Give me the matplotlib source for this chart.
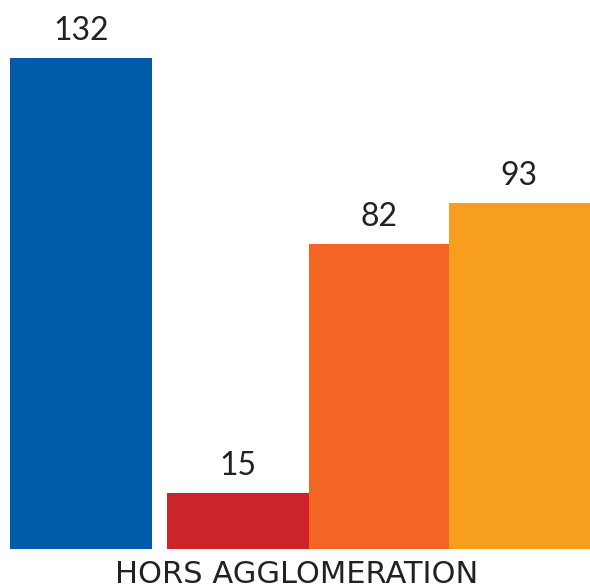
import matplotlib
matplotlib.use("Agg")
import matplotlib.pyplot as plt

categories = ["A", "B", "C", "D"]
values = [132, 15, 82, 93]
positions = [0, 1.11, 2.11, 3.1]
colors = ["#005BAA", "#CC232C", "#F26522", "#F79E1E"]
label = "HORS AGGLOMERATION"

plt.rcParams['font.family'] = ['Lato', 'DejaVu Sans']
fig = plt.figure(figsize=(5.9, 5.88), dpi=100)
ax = fig.add_axes([0, 39/588, 1, 549/588])
ax.bar(positions, values, width=1.0, color=colors, linewidth=0)
for x, v in zip(positions, values):
    ax.annotate(str(v), (x, v), xytext=(0, 13), textcoords="offset points",
                ha="center", va="baseline", fontsize=23, color="#222222")
ax.set_xlim(-0.572, 3.6)
ax.set_ylim(0, 549/3.72)
ax.axis("off")
fig.text(0.5025, 5/588, label, ha="center", va="baseline", fontsize=22,
         color="#222222", family=["DejaVu Sans"])
fig.savefig("out.png", dpi=100)
